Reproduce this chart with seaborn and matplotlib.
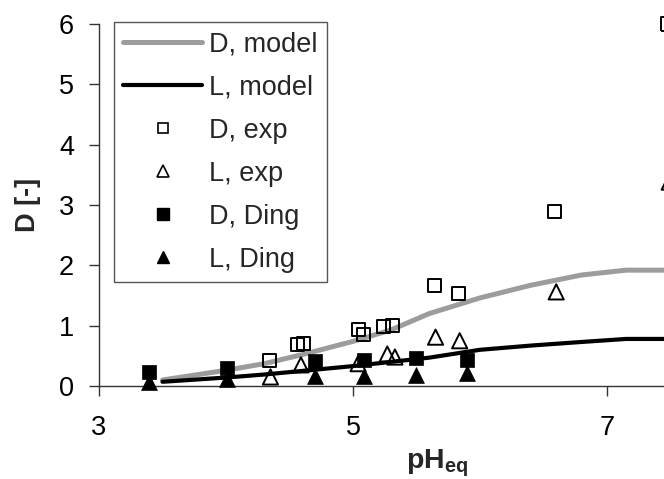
import matplotlib
matplotlib.use("Agg")
import matplotlib.pyplot as plt
import seaborn as sns
import pandas as pd
from matplotlib.lines import Line2D

# ---- data ----
model_ph = [3.5, 4.0, 4.3, 4.6, 5.0, 5.3, 5.6, 6.0, 6.4, 6.8, 7.15, 7.45]
model_D = [0.10, 0.26, 0.37, 0.52, 0.74, 0.93, 1.20, 1.46, 1.67, 1.84, 1.92, 1.92]
model_L = [0.07, 0.14, 0.19, 0.25, 0.33, 0.40, 0.47, 0.60, 0.67, 0.73, 0.78, 0.78]

exp_D_ph = [4.34, 4.56, 4.61, 5.04, 5.08, 5.24, 5.31, 5.64, 5.83, 6.59, 7.48]
exp_D = [0.43, 0.68, 0.70, 0.93, 0.86, 0.98, 1.00, 1.67, 1.54, 2.89, 6.00]

exp_L_ph = [4.35, 4.59, 5.04, 5.27, 5.33, 5.65, 5.84, 6.60, 7.49]
exp_L = [0.15, 0.35, 0.37, 0.53, 0.48, 0.81, 0.75, 1.56, 3.38]

ding_ph = [3.39, 4.01, 4.70, 5.09, 5.50, 5.90]
ding_D = [0.24, 0.30, 0.41, 0.43, 0.46, 0.43]
ding_L = [0.07, 0.11, 0.17, 0.17, 0.18, 0.22]

x_ticks = [3, 5, 7]
y_ticks = [0, 1, 2, 3, 4, 5, 6]
labels = ["D, model", "L, model", "D, exp", "L, exp", "D, Ding", "L, Ding"]

# ---- style ----
sns.set_style("ticks")
plt.rcParams["font.family"] = ["Liberation Sans", "DejaVu Sans"]
plt.rcParams["mathtext.fontset"] = "custom"
plt.rcParams["mathtext.rm"] = "Liberation Sans"
plt.rcParams["mathtext.bf"] = "Liberation Sans:bold"
FS = 19.5

fig = plt.figure(figsize=(6.64, 4.79), dpi=100)
ax = fig.add_axes([99 / 664, (479 - 386) / 479, (664 - 99) / 664, (386 - 24) / 479])

models = pd.DataFrame({"pH": model_ph, "D": model_D, "L": model_L})
sns.lineplot(data=models, x="pH", y="D", ax=ax, color="#9c9c9c", linewidth=3.6, zorder=2)
sns.lineplot(data=models, x="pH", y="L", ax=ax, color="black", linewidth=3.0, zorder=2)

common = dict(ax=ax, clip_on=False, zorder=3)
sns.scatterplot(x=exp_D_ph, y=exp_D, marker="s", s=88, facecolor="none",
                edgecolor="black", linewidth=1.4, **common)
sns.scatterplot(x=exp_L_ph, y=exp_L, marker="^", s=120, facecolor="none",
                edgecolor="black", linewidth=1.4, **common)
sns.scatterplot(x=ding_ph, y=ding_D, marker="s", s=100, color="black",
                edgecolor="black", linewidth=0.5, **common)
sns.scatterplot(x=ding_ph, y=ding_L, marker="^", s=130, color="black",
                edgecolor="black", linewidth=0.5, **common)

ax.set_xlim(3, 3 + 565 / 127)
ax.set_ylim(0, 6)
ax.set_xticks(x_ticks)
ax.set_yticks(y_ticks)
ax.set_xticklabels([str(t) for t in x_ticks])
ax.set_yticklabels([str(t) for t in y_ticks])
ax.tick_params(axis="both", direction="out", length=7, width=1, color="#333333",
               labelsize=FS, labelcolor="black")
ax.tick_params(axis="x", pad=14)
ax.tick_params(axis="y", pad=11)
for side in ["top", "right"]:
    ax.spines[side].set_visible(False)
for side in ["left", "bottom"]:
    ax.spines[side].set_color("#333333")
    ax.spines[side].set_linewidth(1)

ax.set_xlabel(r"$\mathbf{pH}_{\mathbf{eq}}$", fontsize=FS + 1)
ax.set_ylabel("D [-]", fontsize=FS, fontweight="bold")
ax.xaxis.set_label_coords((437 - 99) / 565, -(447 - 386) / 362)
ax.yaxis.set_label_coords(-(99 - 41) / 565, 0.5)

handles = [
    Line2D([], [], color="#9c9c9c", lw=3.6),
    Line2D([], [], color="black", lw=3.0),
    Line2D([], [], ls="none", marker="s", ms=7, mfc="none", mec="black", mew=1.2),
    Line2D([], [], ls="none", marker="^", ms=8, mfc="none", mec="black", mew=1.2),
    Line2D([], [], ls="none", marker="s", ms=8, mfc="black", mec="black"),
    Line2D([], [], ls="none", marker="^", ms=9, mfc="black", mec="black"),
]
leg = ax.legend(handles, labels, loc="upper left",
                bbox_to_anchor=(114 / 664, 1 - 22 / 479), bbox_transform=fig.transFigure,
                fontsize=FS, frameon=True, fancybox=False, framealpha=1,
                edgecolor="#555555", handlelength=2.9, handletextpad=0.25,
                borderpad=0.35, labelspacing=0.63, borderaxespad=0)
leg.get_frame().set_linewidth(1)

fig.savefig("out.png", dpi=100)
